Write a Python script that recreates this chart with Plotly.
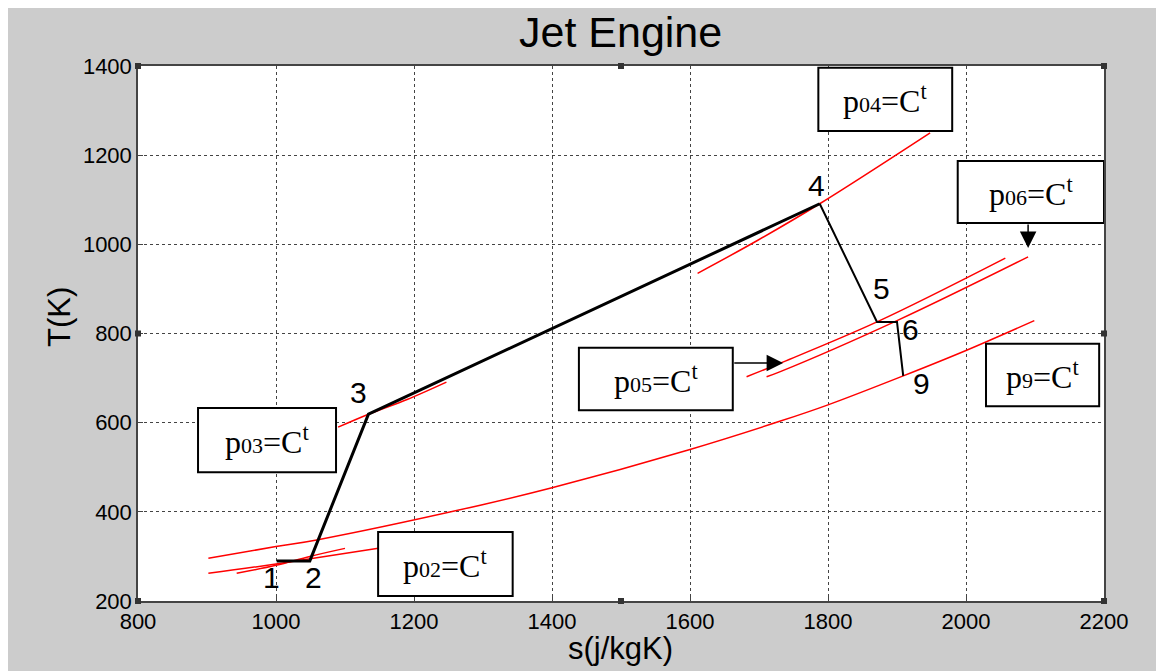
import plotly.graph_objects as go

# ---- data ----
# cycle states (s in J/kgK, T in K)
state_labels = ["1", "2", "3", "4", "5", "6", "9"]
state_s = [1001, 1049, 1134, 1788, 1871, 1900, 1909]
state_T = [290, 290, 619, 1091, 826, 826, 705]

# isobars (red)
iso_p9_s = [902, 1000, 1059, 1296, 1400, 1600, 1730, 1800, 1909, 2000, 2099]
iso_p9_T = [296, 322, 337, 415, 454, 540, 603, 640, 705, 762, 829]

iso_p1_s = [902, 1000, 1146, 1160]
iso_p1_T = [262, 283, 318, 321]

iso_p02_s = [943, 1000, 1049, 1100]
iso_p02_T = [262, 280, 300, 318]

iso_p03_s = [1090, 1134, 1190, 1247]
iso_p03_T = [590, 619, 652, 691]

iso_p04_s = [1611, 1697, 1788, 1948]
iso_p04_T = [935, 1008, 1091, 1250]

iso_p05_s = [1682, 1730, 1871, 2057]
iso_p05_T = [703, 733, 826, 969]

iso_p06_s = [1711, 1730, 1900, 2090]
iso_p06_T = [703, 714, 829, 972]

# label positions for state numbers
lab_s = [993, 1054, 1120, 1783, 1877, 1919, 1936]
lab_T = [252, 252, 667, 1131, 900, 808, 687]

# boxes: (x0, x1, y0, y1, subscript)
box_names = ["04", "06", "05", "03", "02", "9"]
box_x0 = [1786, 1988, 1439, 887, 1148, 2029]
box_x1 = [1980, 2200, 1662, 1087, 1343, 2193]
box_y0 = [1254, 1048, 628, 489, 211, 637]
box_y1 = [1396, 1187, 768, 633, 355, 777]

x_ticks = [800, 1000, 1200, 1400, 1600, 1800, 2000, 2200]
y_ticks = [200, 400, 600, 800, 1000, 1200, 1400]

fig = go.Figure()

red = dict(color="#ff0000", width=1.5)
for xs, ys in [(iso_p9_s, iso_p9_T), (iso_p1_s, iso_p1_T), (iso_p02_s, iso_p02_T),
               (iso_p03_s, iso_p03_T), (iso_p04_s, iso_p04_T),
               (iso_p05_s, iso_p05_T), (iso_p06_s, iso_p06_T)]:
    fig.add_trace(go.Scatter(x=xs, y=ys, mode="lines", line=red,
                             line_shape="spline", hoverinfo="skip"))

# cycle path
fig.add_trace(go.Scatter(x=state_s[:4], y=state_T[:4], mode="lines",
                         line=dict(color="black", width=3)))
fig.add_trace(go.Scatter(x=state_s[3:], y=state_T[3:], mode="lines",
                         line=dict(color="black", width=2)))

shapes = []
annotations = []
for name, x0, x1, y0, y1 in zip(box_names, box_x0, box_x1, box_y0, box_y1):
    shapes.append(dict(type="rect", xref="x", yref="y", x0=x0, x1=x1, y0=y0, y1=y1,
                       fillcolor="white", line=dict(color="black", width=2),
                       layer="above"))
    annotations.append(dict(
        x=(x0 + x1) / 2, y=(y0 + y1) / 2, xref="x", yref="y", showarrow=False,
        text=f"p<span style='font-size:22px'>{name}</span>=C<sup>t</sup>",
        font=dict(family="Liberation Serif", size=32, color="black")))

for t, sx, ty in zip(state_labels, lab_s, lab_T):
    annotations.append(dict(x=sx, y=ty, xref="x", yref="y", text=t, showarrow=False,
                            font=dict(family="Liberation Sans", size=30, color="black")))

# arrows
annotations.append(dict(x=2090, y=992, ax=2090, ay=1048, xref="x", yref="y",
                        axref="x", ayref="y", text="", showarrow=True,
                        arrowhead=2, arrowsize=2.2, arrowwidth=1.5, arrowcolor="black"))
annotations.append(dict(x=1735, y=734, ax=1662, ay=734, xref="x", yref="y",
                        axref="x", ayref="y", text="", showarrow=True,
                        arrowhead=2, arrowsize=2.2, arrowwidth=1.5, arrowcolor="black"))

# title and axis titles
annotations.append(dict(x=0.499, y=1.064, xref="paper", yref="paper", showarrow=False,
                        text="Jet Engine", xanchor="center", yanchor="middle",
                        font=dict(family="Liberation Sans", size=43, color="black")))
annotations.append(dict(x=0.499, y=-0.088, xref="paper", yref="paper", showarrow=False,
                        text="s(j/kgK)", xanchor="center", yanchor="middle",
                        font=dict(family="Liberation Sans", size=31, color="black")))
annotations.append(dict(x=-0.0807, y=0.531, xref="paper", yref="paper", showarrow=False,
                        text="T(K)", xanchor="center", yanchor="middle", textangle=-90,
                        font=dict(family="Liberation Sans", size=31, color="black")))

# small handle squares on the axes box
hw, hh = 3 / 966, 3 / 535
for hx, hy in [(0, 0), (0.5, 0), (1, 0), (0, 0.5), (1, 0.5), (0, 1), (0.5, 1), (1, 1)]:
    shapes.append(dict(type="rect", xref="paper", yref="paper",
                       x0=hx - hw, x1=hx + hw, y0=hy - hh, y1=hy + hh,
                       fillcolor="#333333", line=dict(width=0), layer="above"))

axis_common = dict(showgrid=True, gridcolor="#444444", griddash="dot", gridwidth=1,
                   showline=True, linecolor="#444444", linewidth=1.5, mirror=True,
                   ticks="inside", ticklen=5, tickcolor="#444444",
                   tickfont=dict(family="Liberation Sans", size=22, color="black"),
                   zeroline=False)

fig.update_layout(
    width=1156, height=663,
    margin=dict(l=130, r=60, t=58, b=70),
    paper_bgcolor="#cccccc", plot_bgcolor="white",
    showlegend=False,
    xaxis=dict(range=[800, 2200], tickvals=x_ticks, **axis_common),
    yaxis=dict(range=[200, 1400], tickvals=y_ticks, **axis_common),
    shapes=shapes, annotations=annotations,
)

fig.write_html("out.html")
